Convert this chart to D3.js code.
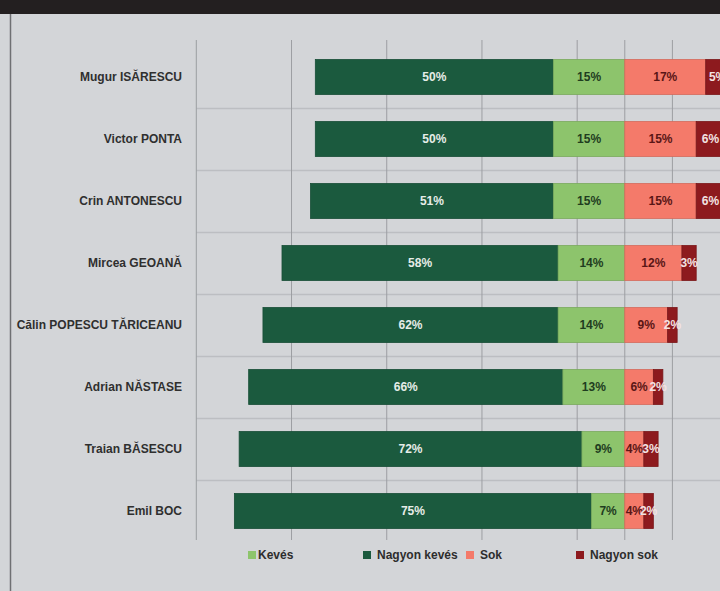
<!DOCTYPE html>
<html>
<head>
<meta charset="utf-8">
<script src="https://cdn.jsdelivr.net/npm/d3@7"></script>
<style>
  html, body { margin: 0; padding: 0; background: #d3d5d8; }
  svg { display: block; }
</style>
</head>
<body>
<svg id="chart"></svg>
<script>
const candidates = [
  'Mugur ISĂRESCU',
  'Victor PONTA',
  'Crin ANTONESCU',
  'Mircea GEOANĂ',
  'Călin POPESCU TĂRICEANU',
  'Adrian NĂSTASE',
  'Traian BĂSESCU',
  'Emil BOC'
];
const nagyonKeves = [50, 50, 51, 58, 62, 66, 72, 75];
const keves = [15, 15, 15, 14, 14, 13, 9, 7];
const sok = [17, 15, 15, 12, 9, 6, 4, 4];
const nagyonSok = [5, 6, 6, 3, 2, 2, 3, 2];
const gridTicks = [-90, -70, -50, -30, -10, 0, 10];
const legendLabels = ['Kevés', 'Nagyon kevés', 'Sok', 'Nagyon sok'];

const W = 720, H = 591;
const colors = {
  'Nagyon kevés': '#1b5a3e',
  'Kevés': '#8dc46c',
  'Sok': '#f47a6a',
  'Nagyon sok': '#8d1a1e'
};
const textColors = {
  'Nagyon kevés': '#e6ede8',
  'Kevés': '#1f3d1f',
  'Sok': '#5a1616',
  'Nagyon sok': '#f3e3e3'
};

const svg = d3.select('#chart')
  .attr('width', W)
  .attr('height', H)
  .style('font-family', '"Liberation Sans", Arial, sans-serif');

svg.append('rect').attr('width', W).attr('height', H).attr('fill', '#d3d5d8');

// black title band (cropped at top)
svg.append('rect').attr('x', 0).attr('y', 0).attr('width', W).attr('height', 14).attr('fill', '#231f20');
// left frame
svg.append('line')
  .attr('x1', 10.5).attr('x2', 10.5).attr('y1', 14).attr('y2', H)
  .attr('stroke', '#6f7073').attr('stroke-width', 1.5);

const x = d3.scaleLinear().domain([-90, 20]).range([196.3, 720]);
const y = d3.scaleBand().domain(candidates).range([46, 542]).paddingInner(0.435).paddingOuter(0.2175);

// horizontal grid at category boundaries
const step = y.step();
svg.append('g')
  .selectAll('line')
  .data(candidates.slice(1))
  .join('line')
  .attr('x1', x(-90)).attr('x2', W)
  .attr('y1', d => Math.round(y(d) - (step - y.bandwidth()) / 2) + 0.5)
  .attr('y2', d => Math.round(y(d) - (step - y.bandwidth()) / 2) + 0.5)
  .attr('stroke', '#bcbec2')
  .attr('stroke-width', 1.5);

// vertical grid
svg.append('g')
  .selectAll('line')
  .data(gridTicks)
  .join('line')
  .attr('x1', d => x(d)).attr('x2', d => x(d))
  .attr('y1', 40).attr('y2', 540)
  .attr('stroke', '#9c9ea2')
  .attr('stroke-width', 1);

// category labels
svg.append('g')
  .selectAll('text')
  .data(candidates)
  .join('text')
  .attr('x', 182)
  .attr('y', d => y(d) + y.bandwidth() / 2)
  .attr('dy', '0.35em')
  .attr('text-anchor', 'end')
  .style('font-size', '12px')
  .style('font-weight', 'bold')
  .style('fill', '#2f2f2f')
  .text(d => d);

// segments: negative side stacks outward from 0
const segments = [];
candidates.forEach((c, i) => {
  const k0 = -keves[i];
  const nk0 = k0 - nagyonKeves[i];
  segments.push({ c, key: 'Nagyon kevés', v: nagyonKeves[i], x0: nk0, x1: k0 });
  segments.push({ c, key: 'Kevés', v: keves[i], x0: k0, x1: 0 });
  segments.push({ c, key: 'Sok', v: sok[i], x0: 0, x1: sok[i] });
  segments.push({ c, key: 'Nagyon sok', v: nagyonSok[i], x0: sok[i], x1: sok[i] + nagyonSok[i] });
});

const seg = svg.append('g').selectAll('g').data(segments).join('g');

seg.append('rect')
  .attr('x', d => x(d.x0))
  .attr('y', d => y(d.c))
  .attr('width', d => x(d.x1) - x(d.x0))
  .attr('height', y.bandwidth())
  .attr('fill', d => colors[d.key])
  .attr('stroke', d => d3.color(colors[d.key]).darker(0.4))
  .attr('stroke-width', 0.8);

seg.append('text')
  .attr('x', d => (x(d.x0) + x(d.x1)) / 2)
  .attr('y', d => y(d.c) + y.bandwidth() / 2)
  .attr('dy', '0.35em')
  .attr('text-anchor', 'middle')
  .style('font-size', '12px')
  .style('font-weight', 'bold')
  .style('fill', d => textColors[d.key])
  .text(d => d.v + '%');

// legend
const legendOrder = ['Kevés', 'Nagyon kevés', 'Sok', 'Nagyon sok'];
const legendX = [248, 363, 466, 576];
const lg = svg.append('g')
  .selectAll('g')
  .data(legendLabels)
  .join('g')
  .attr('transform', (d, i) => `translate(${legendX[i]},555)`);

lg.append('rect')
  .attr('x', 0).attr('y', -4)
  .attr('width', 8).attr('height', 8)
  .attr('fill', d => colors[d]);

lg.append('text')
  .attr('x', (d, i) => (i === 0 ? 10 : 14))
  .attr('dy', '0.35em')
  .style('font-size', '12px')
  .style('font-weight', 'bold')
  .style('fill', '#2d2d2d')
  .text(d => d);
</script>
</body>
</html>
